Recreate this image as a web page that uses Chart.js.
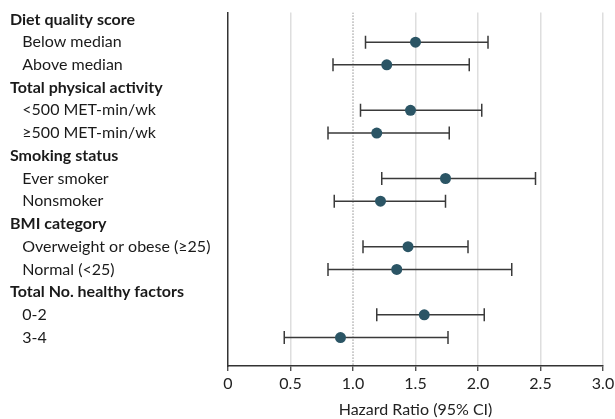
<!DOCTYPE html>
<html>
<head>
<meta charset="utf-8">
<script src="https://cdn.jsdelivr.net/npm/chart.js@4/dist/chart.umd.min.js"></script>
<style>
  html, body { margin: 0; padding: 0; background: #fff; }
  #wrap { width: 615px; height: 419px; position: relative; }
</style>
</head>
<body>
<div id="wrap"><canvas id="c"></canvas></div>
<script>
const rowLabels = ['Diet quality score', 'Below median', 'Above median',
  'Total physical activity', '<500 MET-min/wk', '≥500 MET-min/wk',
  'Smoking status', 'Ever smoker', 'Nonsmoker',
  'BMI category', 'Overweight or obese (≥25)', 'Normal (<25)',
  'Total No. healthy factors', '0-2', '3-4'];
const isHeader = [true, false, false, true, false, false, true, false, false, true, false, false, true, false, false];
const hazardRatio = [null, 1.50, 1.27, null, 1.46, 1.19, null, 1.74, 1.22, null, 1.44, 1.35, null, 1.57, 0.90];
const ciLow       = [null, 1.10, 0.84, null, 1.06, 0.80, null, 1.23, 0.85, null, 1.08, 0.80, null, 1.19, 0.45];
const ciHigh      = [null, 2.08, 1.93, null, 2.03, 1.77, null, 2.46, 1.74, null, 1.92, 2.27, null, 2.05, 1.76];
const xTickValues = [0, 0.5, 1.0, 1.5, 2.0, 2.5, 3.0];
const xTickLabels = ['0', '0.5', '1.0', '1.5', '2.0', '2.5', '3.0'];
const referenceHR = 1.0;
const xTitle = 'Hazard Ratio (95% CI)';

const FONT = 'Lato';
const FS = 16;
const Y_MIN = -0.3, Y_MAX = 15.25;

const pointData = [];
const ciData = [];
hazardRatio.forEach((v, i) => {
  if (v === null) return;
  pointData.push({ x: v, y: i });
  ciData.push({ x: ciLow[i], y: i }, { x: ciHigh[i], y: i }, { x: null, y: null });
});

new Chart(document.getElementById('c'), {
  type: 'scatter',
  data: {
    datasets: [
      {
        data: pointData,
        pointRadius: 5.5,
        pointHoverRadius: 5.5,
        backgroundColor: '#2B5565',
        borderWidth: 0,
        order: 0
      },
      {
        data: ciData,
        showLine: true,
        spanGaps: false,
        borderColor: '#3a3a3a',
        borderWidth: 1.5,
        pointStyle: 'line',
        rotation: 90,
        pointRadius: 6.5,
        pointHoverRadius: 6.5,
        pointBorderColor: '#3a3a3a',
        pointBorderWidth: 1.5,
        order: 1
      },
      {
        data: [{ x: referenceHR, y: Y_MIN }, { x: referenceHR, y: Y_MAX }],
        showLine: true,
        borderColor: '#555',
        borderWidth: 1,
        borderDash: [1, 2],
        pointRadius: 0,
        order: 2
      }
    ]
  },
  options: {
    responsive: true,
    maintainAspectRatio: false,
    animation: false,
    layout: { padding: { left: 10, top: 12, right: 0, bottom: 0 } },
    plugins: { legend: { display: false }, tooltip: { enabled: false } },
    scales: {
      x: {
        type: 'linear',
        min: 0, max: 3,
        afterBuildTicks: (s) => { s.ticks = xTickValues.map(v => ({ value: v })); },
        afterFit: (s) => { s.height = 53; s.paddingRight = 12; s.paddingLeft = 0; },
        ticks: {
          autoSkip: false,
          padding: 3,
          color: '#222',
          font: { family: FONT, size: FS },
          callback: (v) => { const k = xTickValues.indexOf(v); return k >= 0 ? xTickLabels[k] : ''; }
        },
        grid: {
          color: (ctx) => (ctx.tick && (ctx.tick.value === 0 || ctx.tick.value === referenceHR)) ? 'rgba(0,0,0,0)' : '#dedede',
          lineWidth: 1.5,
          tickLength: 5,
          tickColor: '#333',
          tickWidth: 1.2
        },
        border: { display: true, color: '#333', width: 1.5 },
        title: {
          display: true,
          text: xTitle,
          color: '#222',
          font: { family: FONT, size: FS },
          padding: { top: 0, bottom: 0 }
        }
      },
      y: {
        type: 'linear',
        reverse: true,
        min: Y_MIN, max: Y_MAX,
        afterBuildTicks: (s) => { s.ticks = rowLabels.map((_, i) => ({ value: i })); },
        afterFit: (s) => { s.width = 218; },
        ticks: {
          autoSkip: false,
          crossAlign: 'far',
          color: '#1a1a1a',
          font: (ctx) => ({ family: FONT, size: FS, weight: isHeader[ctx.index] ? 'bold' : 'normal' }),
          callback: (v) => (isHeader[v] ? rowLabels[v] : '   ' + rowLabels[v])
        },
        grid: { display: false, drawTicks: false },
        border: { display: true, color: '#333', width: 1.5 }
      }
    }
  }
});
</script>
</body>
</html>
